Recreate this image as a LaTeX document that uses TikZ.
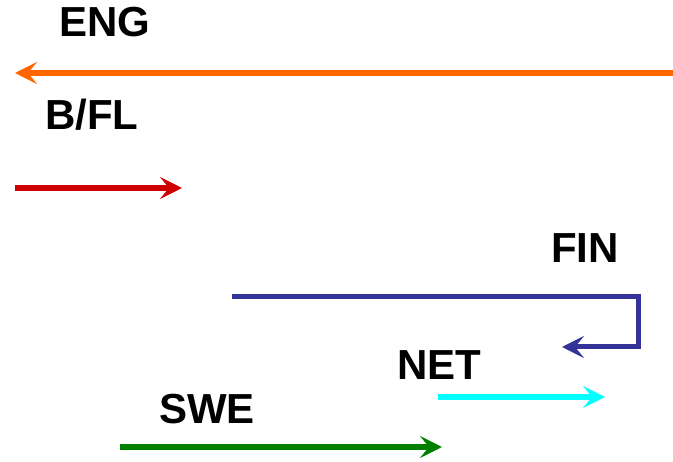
\documentclass[tikz,border=0pt]{standalone}
\usepackage{fontspec}
\setmainfont{Liberation Sans}
\usetikzlibrary{arrows.meta}
\definecolor{cEng}{HTML}{FF6600}
\definecolor{cBfl}{HTML}{CC0000}
\definecolor{cFin}{HTML}{333399}
\definecolor{cNet}{HTML}{00FFFF}
\definecolor{cSwe}{HTML}{008000}
\tikzset{
  lbl/.style={font=\fontsize{42}{42}\selectfont\bfseries, inner sep=0pt, anchor=base west},
  flow/.style={line width=5.5pt, -{Stealth[length=22pt,width=22pt,inset=9pt]}}
}
\begin{document}
\begin{tikzpicture}[x=1pt,y=-1pt]
\useasboundingbox (0,0) rectangle (673,462);
\node[lbl] (eng) at (59,37) {ENG};
\node[lbl] (bfl) at (45,130) {B/FL};
\node[lbl] (fin) at (551,263) {FIN};
\node[lbl] (net) at (397,380) {NET};
\node[lbl] (swe) at (159,424) {SWE};
\coordinate (engA) at (673,73);
\coordinate (engB) at (15,73);
\coordinate (bflA) at (15,188);
\coordinate (bflB) at (182,188);
\coordinate (finA) at (232,297);
\coordinate (finC1) at (638,297);
\coordinate (finC2) at (638,347);
\coordinate (finB) at (562,347);
\coordinate (netA) at (438,397);
\coordinate (netB) at (605,397);
\coordinate (sweA) at (120,447);
\coordinate (sweB) at (442,447);
\draw[flow, cEng] (engA) -- (engB);
\draw[flow, cBfl] (bflA) -- (bflB);
\draw[flow, cFin, line width=5pt] (finA) -- (finC1) -- (finC2) -- (finB);
\draw[flow, cNet] (netA) -- (netB);
\draw[flow, cSwe] (sweA) -- (sweB);
\end{tikzpicture}
\end{document}
